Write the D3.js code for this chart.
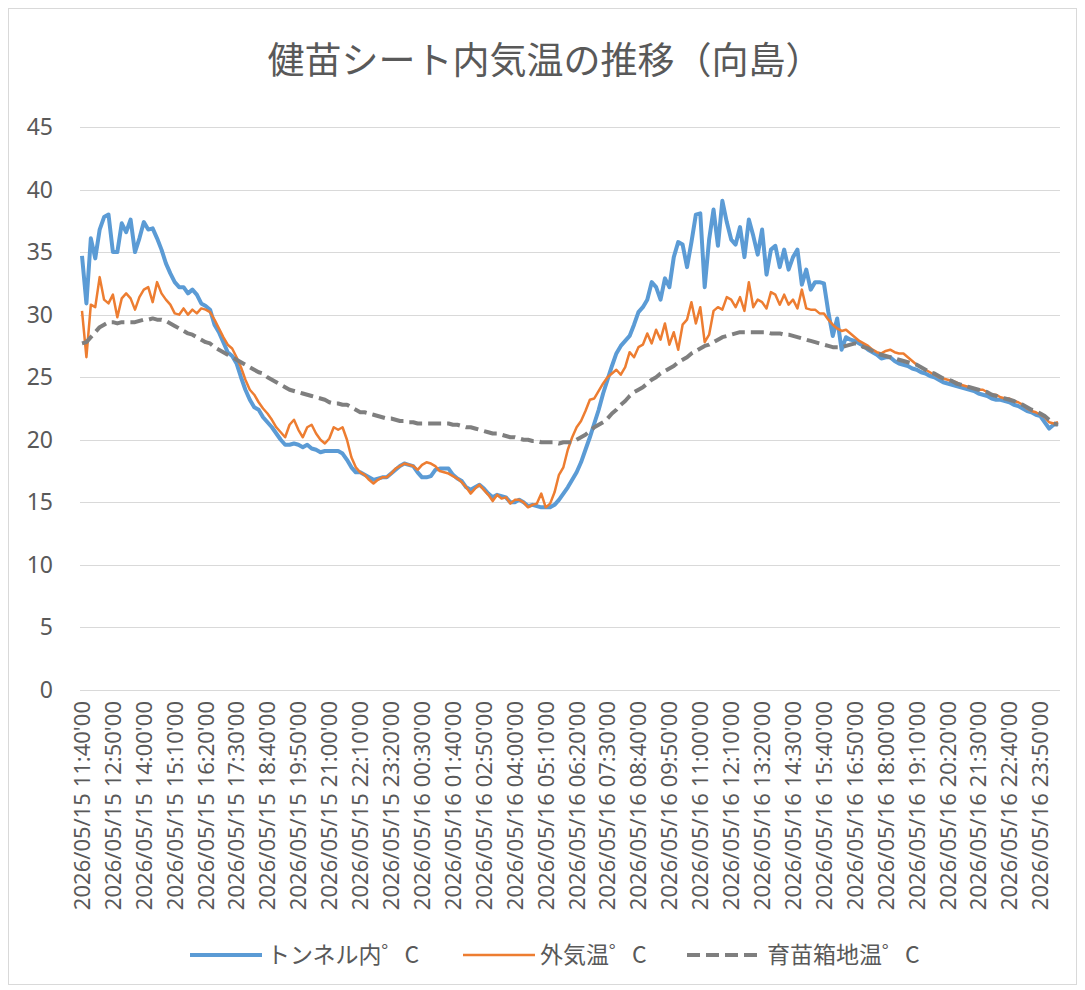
<!DOCTYPE html>
<html>
<head>
<meta charset="utf-8">
<script src="https://cdn.jsdelivr.net/npm/d3@7"></script>
<style>
  body { margin: 0; background: #fff; }
  text { font-family: "Noto Sans CJK JP", "Noto Sans", sans-serif; fill: #595959; }
  .num { font-family: "Noto Sans", "Noto Sans CJK JP", sans-serif; }
</style>
</head>
<body>
<script>
// データ（10分間隔、2026/05/15 11:40'00 から）
var title = "健苗シート内気温の推移（向島）";
var seriesNames = ["トンネル内゜C", "外気温゜C", "育苗箱地温゜C"];
var colors = ["#5B9BD5", "#ED7D31", "#7F7F7F"];

var tunnel = [34.7,30.9,36.1,34.5,36.8,37.8,38.0,35.0,35.0,37.3,36.6,37.6,35.0,36.1,37.4,36.8,36.9,36.1,35.2,34.1,
  33.3,32.6,32.2,32.2,31.7,32.0,31.6,30.9,30.7,30.4,29.2,28.6,27.8,27.0,26.7,26.1,25.0,24.0,23.2,22.6,
  22.4,21.8,21.4,21.0,20.5,20.0,19.6,19.6,19.7,19.6,19.4,19.6,19.3,19.2,19.0,19.1,19.1,19.1,19.1,18.9,
  18.4,17.8,17.4,17.4,17.2,17.0,16.8,16.9,17.0,17.0,17.3,17.6,17.9,18.1,18.0,17.9,17.4,17.0,17.0,17.1,
  17.6,17.7,17.7,17.7,17.2,16.9,16.7,16.2,16.0,16.2,16.4,16.1,15.7,15.4,15.6,15.5,15.4,15.0,15.0,15.2,
  15.0,14.7,14.8,14.7,14.6,14.6,14.6,14.8,15.2,15.7,16.2,16.8,17.4,18.2,19.2,20.2,21.3,22.4,23.7,24.8,
  25.9,26.9,27.5,27.9,28.3,29.2,30.2,30.6,31.2,32.6,32.2,31.2,32.9,32.2,34.6,35.8,35.6,33.8,35.8,38.0,
  38.1,32.2,36.0,38.4,35.5,39.1,37.4,36.0,35.6,37.0,34.6,37.6,36.3,34.8,36.8,33.2,35.2,35.5,33.8,35.2,
  33.6,34.6,35.2,32.4,33.6,32.0,32.6,32.6,32.5,30.2,28.3,29.7,27.2,28.2,28.0,27.9,27.7,27.5,27.2,27.0,
  26.8,26.5,26.6,26.6,26.3,26.1,26.0,25.9,25.7,25.6,25.4,25.3,25.1,25.0,24.8,24.6,24.5,24.4,24.3,24.2,
  24.1,24.0,23.9,23.7,23.6,23.5,23.3,23.2,23.2,23.1,23.0,22.8,22.7,22.5,22.3,22.2,22.0,21.9,21.4,20.9,
  21.2,21.3];

var outside = [30.3,26.6,30.8,30.6,33.0,31.2,30.9,31.6,29.8,31.3,31.7,31.3,30.4,31.4,32.0,32.2,31.0,32.6,31.7,31.2,
  30.8,30.1,30.0,30.5,30.0,30.4,30.1,30.5,30.4,30.2,29.6,28.9,28.2,27.6,27.3,26.6,25.8,24.8,24.0,23.6,
  23.0,22.5,22.1,21.6,21.0,20.6,20.2,21.2,21.6,20.8,20.2,21.0,21.2,20.5,20.0,19.7,20.1,21.0,20.8,21.0,
  20.0,18.6,17.8,17.4,17.2,16.8,16.5,16.8,17.0,17.0,17.3,17.7,17.9,18.1,18.0,17.9,17.6,18.0,18.2,18.1,
  17.9,17.5,17.4,17.3,17.1,16.9,16.6,16.2,15.7,16.1,16.4,16.0,15.6,15.1,15.6,15.3,15.4,14.9,15.2,15.2,
  15.0,14.6,14.8,14.9,15.7,14.6,14.9,15.8,17.2,17.8,19.2,20.2,21.0,21.5,22.3,23.2,23.3,23.9,24.5,25.0,
  25.3,25.6,25.2,25.8,27.0,26.6,27.4,27.6,28.5,27.7,28.8,28.0,29.3,27.6,28.6,27.2,29.2,29.6,31.0,29.3,
  30.6,27.8,28.4,30.3,30.6,30.4,31.4,31.2,30.6,31.4,30.3,32.6,30.6,31.2,31.0,30.5,31.8,31.6,30.8,31.6,
  30.8,31.2,30.5,32.0,30.5,30.4,30.4,30.1,30.1,29.6,29.2,28.9,28.7,28.8,28.5,28.2,27.9,27.7,27.5,27.2,
  27.0,26.9,27.1,27.2,27.0,26.9,26.9,26.6,26.3,26.0,25.8,25.6,25.4,25.2,25.0,24.9,24.8,24.7,24.6,24.4,
  24.3,24.2,24.1,24.0,24.0,23.8,23.6,23.6,23.4,23.3,23.3,23.1,23.0,22.8,22.5,22.3,22.2,22.0,21.8,21.4,
  21.3,21.4];

var soil = [27.7,27.8,28.2,28.6,29.0,29.2,29.4,29.4,29.3,29.4,29.4,29.4,29.4,29.5,29.6,29.6,29.7,29.6,29.6,29.5,
  29.3,29.1,28.9,28.7,28.5,28.4,28.2,28.0,27.8,27.7,27.4,27.2,27.0,26.8,26.6,26.4,26.2,26.0,25.8,25.6,
  25.4,25.3,25.0,24.8,24.6,24.4,24.2,24.0,23.9,23.8,23.7,23.6,23.5,23.4,23.3,23.2,23.0,22.9,22.9,22.8,
  22.8,22.6,22.4,22.2,22.2,22.1,22.0,21.9,21.8,21.7,21.7,21.6,21.5,21.5,21.4,21.4,21.3,21.3,21.3,21.3,
  21.3,21.3,21.3,21.3,21.2,21.2,21.1,21.0,21.0,20.9,20.8,20.7,20.6,20.5,20.5,20.4,20.3,20.2,20.2,20.1,
  20.0,20.0,19.9,19.9,19.8,19.8,19.8,19.8,19.7,19.8,19.8,19.8,20.0,20.2,20.4,20.7,21.0,21.2,21.4,21.7,
  22.1,22.4,22.8,23.1,23.5,23.8,24.0,24.2,24.5,24.8,25.0,25.3,25.5,25.7,25.9,26.2,26.4,26.6,26.9,27.1,
  27.3,27.5,27.6,27.8,28.0,28.2,28.3,28.4,28.5,28.6,28.6,28.6,28.6,28.6,28.6,28.6,28.5,28.5,28.5,28.4,
  28.4,28.3,28.2,28.1,28.0,27.9,27.8,27.7,27.6,27.5,27.4,27.4,27.4,27.5,27.6,27.7,27.6,27.4,27.3,27.1,
  26.9,26.8,26.7,26.6,26.5,26.4,26.3,26.2,26.1,26.0,25.8,25.6,25.4,25.3,25.1,24.9,24.8,24.7,24.5,24.4,
  24.3,24.2,24.1,24.0,23.9,23.8,23.6,23.5,23.4,23.3,23.2,23.1,22.9,22.8,22.6,22.4,22.3,22.1,21.9,21.6,
  21.3,21.2];

var yTicks = [0, 5, 10, 15, 20, 25, 30, 35, 40, 45];
var xTickLabels = ["2026/05/15 11:40'00","2026/05/15 12:50'00","2026/05/15 14:00'00","2026/05/15 15:10'00",
  "2026/05/15 16:20'00","2026/05/15 17:30'00","2026/05/15 18:40'00","2026/05/15 19:50'00",
  "2026/05/15 21:00'00","2026/05/15 22:10'00","2026/05/15 23:20'00","2026/05/16 00:30'00",
  "2026/05/16 01:40'00","2026/05/16 02:50'00","2026/05/16 04:00'00","2026/05/16 05:10'00",
  "2026/05/16 06:20'00","2026/05/16 07:30'00","2026/05/16 08:40'00","2026/05/16 09:50'00",
  "2026/05/16 11:00'00","2026/05/16 12:10'00","2026/05/16 13:20'00","2026/05/16 14:30'00",
  "2026/05/16 15:40'00","2026/05/16 16:50'00","2026/05/16 18:00'00","2026/05/16 19:10'00",
  "2026/05/16 20:20'00","2026/05/16 21:30'00","2026/05/16 22:40'00","2026/05/16 23:50'00"];

// 計測時刻（カテゴリ）
var fmt = d3.timeFormat("%Y/%m/%d %H:%M'%S");
var start = new Date(2026, 4, 15, 11, 40, 0);
var categories = tunnel.map(function(d, i){ return fmt(d3.timeMinute.offset(start, i * 10)); });
var series = [tunnel, outside, soil];

var width = 1085, height = 990;
var plot = {left: 80, right: 1060, top: 127, bottom: 690};

var svg = d3.select("body").append("svg")
  .attr("width", width)
  .attr("height", height);

// 枠
svg.append("rect")
  .attr("x", 8.5).attr("y", 8.5)
  .attr("width", 1068).attr("height", 976)
  .attr("fill", "#fff").attr("stroke", "#D9D9D9");

var x = d3.scalePoint().domain(categories).range([82, 1058]);
var y = d3.scaleLinear().domain([0, 45]).range([plot.bottom, plot.top]);

// タイトル
svg.append("text")
  .attr("x", 545).attr("y", 74)
  .attr("text-anchor", "middle")
  .style("font-size", "37px")
  .text(title);

// グリッド線
svg.append("g").selectAll("line").data(yTicks).join("line")
  .attr("x1", plot.left).attr("x2", plot.right)
  .attr("y1", function(d){ return Math.round(y(d)) + 0.5; })
  .attr("y2", function(d){ return Math.round(y(d)) + 0.5; })
  .attr("stroke", "#D9D9D9").attr("stroke-width", 1);

// Y軸ラベル
svg.append("g").selectAll("text").data(yTicks).join("text")
  .attr("class", "num")
  .attr("x", 53).attr("y", function(d){ return y(d); })
  .attr("dy", "0.35em")
  .attr("text-anchor", "end")
  .style("font-size", "23px")
  .text(function(d){ return d; });

// X軸ラベル（縦書き）
svg.append("g").selectAll("text").data(xTickLabels).join("text")
  .attr("class", "num")
  .attr("transform", function(d){ return "translate(" + x(d) + ",701) rotate(-90)"; })
  .attr("dy", "0.36em")
  .attr("text-anchor", "end")
  .style("font-size", "22px")
  .text(function(d){ return d; });

// 線
var line = d3.line()
  .x(function(d, i){ return x(categories[i]); })
  .y(function(d){ return y(d); });

var styles = [
  {w: 4, dash: null},
  {w: 2.5, dash: null},
  {w: 4, dash: "13,6"}
];

series.forEach(function(s, k){
  svg.append("path")
    .datum(s)
    .attr("d", line)
    .attr("fill", "none")
    .attr("stroke", colors[k])
    .attr("stroke-width", styles[k].w)
    .attr("stroke-linejoin", "round")
    .attr("stroke-dasharray", styles[k].dash);
});

// 凡例
var legendX = [190, 463, 687];
var legend = svg.append("g").selectAll("g").data(seriesNames).join("g")
  .attr("transform", function(d, i){ return "translate(" + legendX[i] + ",955)"; });
legend.append("line")
  .attr("x1", 0).attr("x2", function(d, i){ return i == 2 ? 76 : 72; })
  .attr("stroke", function(d, i){ return colors[i]; })
  .attr("stroke-width", function(d, i){ return styles[i].w; })
  .attr("stroke-dasharray", function(d, i){ return styles[i].dash; });
legend.append("text")
  .attr("x", function(d, i){ return i == 2 ? 80 : 77; })
  .attr("dy", "0.35em")
  .style("font-size", "23px")
  .text(function(d){ return d; });
</script>
</body>
</html>
